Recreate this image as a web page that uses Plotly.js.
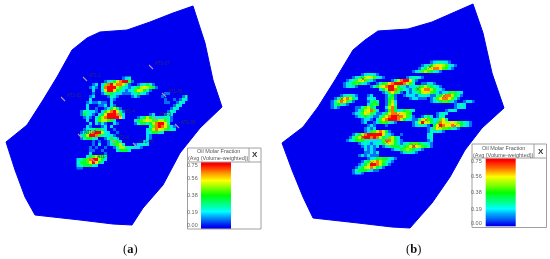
<!DOCTYPE html>
<html><head><meta charset="utf-8">
<script src="https://cdn.plot.ly/plotly-3.0.1.min.js"></script>
<style>html,body{margin:0;padding:0;background:#fff}#c{width:550px;height:259px;filter:blur(0.5px)}</style>
</head><body><div id="c"></div>
<script>
// Field outlines
const outlineAx=[193,205,213,222,200,180,163,143,132,113,80,35,25,15,6,27,43,57,72,87,100,127,150,173];
const outlineAy=[6,43,80,107,128,153,185,208,225,224,220,215,197,170,142,125,100,77,50,38,32,30,22,13];
const outlineBx=[473,483,492,504,482,465,450,432,410,392,358,313,303,292,282,303,318,335,353,365,378,408,432,455];
const outlineBy=[4,33,73,108,128,150,177,203,228,227,223,218,197,170,143,127,107,80,50,40,31,29,22,12];
// Oil molar fraction per 3px cell, one string per row: "startColumn:digits", digit 0 = 0.00 ... 9 = 0.75
const fractionRowsA=[
"15:123",
"9:1234689951",
"5:12 8:25897886310 20:12343 25:1",
"4:121 8:3899965321234676543 26:1",
"5:2 8:26997432123576431",
"5:1 8:1354322111234321 29:11",
"4:12 10:1321 18:121 28:1 35:13",
"4:2 11:21 29:1 32:1 34:132",
"3:121121 9:1 11:2 29:11 33:132",
"3:2 7:112 11:21 32:132",
"3:2 6:1 9:124641 31:132",
"1:133221 8:24689731 30:132",
"1:14321 7:2479998520000000012 29:132",
"2:121 6:2468999972 20:124643222331",
"3:2 6:3566542 19:2456765566531",
"4:2 6:2131 12:21 19:134434689973",
"3:21 8:12 11:2 24:358987421",
"2:1233443 9:2 12:1 23:2468765432",
"1:1346899632 13:1 23:234432",
"1:2469985332 11:21 23:21",
"1:134432 9:13432 23:21",
"5:1 7:1 10:13542 22:22",
"5:1 7:2 10:124563 19:12232",
"4:1 6:1 9:1 12:13663332 20:21",
"4:11 8:1 13:24442",
"4:2 9:1",
"3:2456543",
"0:2345899642",
"0:344579742",
"0:2344432",
"0:11"];
const fractionRowsB=[
"33:1233321",
"30:123467765321",
"29:134678875421",
"27:1235654321",
"10:123321",
"7:12346765321 25:123321",
"5:1235675321 20:136899731",
"4:123454321 15:1345789998653 30:11221",
"4:12321 13:1346789974321 26:22345654321",
"16:2469985432134578864321",
"17:1257531 25:21234676542 36:12345432",
"3:123321 12:12 18:134 21:1 24:122212332 33:11346886431",
"1:13578642 12:232 18:1451 26:122111 33:1357887531",
"0:13687531 12:1343 18:1462 33:123455421 44:1221",
"0:134321 12:2454 18:1573 41:1232",
"0:121 8:1135642 18:2684 41:1232",
"8:12467852 18:1584234532 38:1232",
"7:12357653112468877654 2 35:1232",
"8:1234321 15:1357899887531 30:1342 35:133",
"10:12210 15:2578999864321 28:1367542 35:2573",
"10:12 14:12454321 27:13697642 35:487667654321",
"12:121 18:1 27:123321 34:4798778764321",
"11:1212 32:12576554321",
"11:124568741 32:132321",
"7:13468999997321 23:1 32:23",
"6:135689989864 18:35642 32:23",
"5:123454332 14:222588642 23:1 32:12",
"9:1232123346764212345543321",
"10:121212 17:1234443457876543 33:1",
"11:2121 20:123456543 29:21",
"11:11212 23:123321",
"9:1212111",
"12:1234544321",
"10:134678653210",
"9:12469986431",
"8:1246786431",
"7:134443211",
"7:1221"];
// Colour key
const keyTicks=["0.75","0.56","0.38","0.19","0.00"];
const keyRamp=[0,0.05,0.1,0.15,0.2,0.25,0.3,0.35,0.4,0.45,0.5,0.55,0.6,0.65,0.7,0.75];
const keyTitle=["Oil Molar Fraction","(Avg (Volume-weighted))"];
// Wells
const wellsAx=[151,85,63,164,119,177,155,80,113,135,93];
const wellsAy=[67,79,99,95,115,126,118,136,141,145,160];
const wellNamesA=["AT1-07","AT1-1","AT1-02","AT1-06","AT1-4","AT1-05","AT1-3","AT1-2","AT1-8","AT1-09","AT1-1"];
const wellsBx=[430,363,342,390,418,444,398,426,455,440,363,387,414,372];
const wellsBy=[67,79,99,88,89,96,115,120,126,126,137,142,146,163];

const blue='#0000f0';
const scale=[[0,blue],[0.25,'#00ffff'],[0.5,'#00ff00'],[0.75,'#ffff00'],[1,'#ff0000']];
const inside=(px,py,xs,ys)=>{let c=false;for(let i=0,j=xs.length-1;i<xs.length;j=i++){
  if((ys[i]>py)!==(ys[j]>py)&&px<(xs[j]-xs[i])*(py-ys[i])/(ys[j]-ys[i])+xs[i])c=!c;}return c;};
const toZ=(rows,cols,x0,y0,xs,ys)=>rows.map((r,j)=>{
  const a=new Array(cols).fill(0);
  r.split(' ').filter(Boolean).forEach(seg=>{const [s,d]=seg.split(':');if(d)d.split('').forEach((c,k)=>{if(+s+k<cols)a[+s+k]=(+c)/9*0.75;});});
  return a.map((v,i)=>{const x=x0+3*i,y=y0+3*j;
    return [[-4,-4],[4,-4],[-4,4],[4,4]].every(o=>inside(x+o[0],y+o[1],xs,ys))?v:null;});});
const field=(x,y)=>({type:'scatter',x:x.concat(x[0]),y:y.concat(y[0]),mode:'lines',fill:'toself',
  fillcolor:blue,line:{color:blue,width:1},hoverinfo:'skip',showlegend:false,xaxis:'x',yaxis:'y'});
const map=(rows,cols,x0,y0,xs,ys)=>({type:'heatmap',z:toZ(rows,cols,x0,y0,xs,ys),x0:x0,dx:3,y0:y0,dy:3,zmin:0,zmax:0.75,colorscale:scale,
  showscale:false,zsmooth:false,hoverinfo:'skip',xaxis:'x2',yaxis:'y2'});
const bar=(x0,x1,yTop,yBot)=>{const dy=(yBot-yTop)/keyRamp.length,dx=(x1-x0)/2;return{type:'heatmap',
  z:keyRamp.map(v=>[v,v]),x0:x0+dx/2,dx:dx,y0:yBot-dy/2,dy:-dy,zmin:0,zmax:0.75,colorscale:scale,showscale:false,
  zsmooth:'best',hoverinfo:'skip',xaxis:'x2',yaxis:'y2'};};
const wells=(x,y,sym,size,col,w)=>({type:'scatter',mode:'markers',x:x,y:y,marker:{symbol:sym,size:size,color:col,line:{color:col,width:w}},
  hoverinfo:'skip',showlegend:false,xaxis:'x2',yaxis:'y2'});

const traces=[field(outlineAx,outlineAy),field(outlineBx,outlineBy),
  map(fractionRowsA,37,78,78,outlineAx,outlineAy),map(fractionRowsB,48,332,62,outlineBx,outlineBy),
  bar(201,230.7,162,228.5),bar(485.7,516,158.3,226.5),
  wells(wellsAx,wellsAy,'line-nw',4,'#b795b5',1.1),wells(wellsBx,wellsBy,'x-thin',3.5,'#704848',0.6)];

const ann=[];
const txt=(x,y,t,size,col,anchor,fam)=>ann.push({x:x,y:y,xref:'x',yref:'y',text:t,showarrow:false,xanchor:anchor||'center',yanchor:'middle',
  font:{size:size,color:col,family:fam||'"Liberation Sans",Arial,sans-serif'}});
wellNamesA.forEach((n,i)=>txt(wellsAx[i]+2,wellsAy[i]-4,n,4.5,'#2a2a66','left'));
[[199.5,[165,178,195,211.5,225]],[483.5,[161,175.5,192,209,223]]].forEach(([x,ys])=>keyTicks.forEach((t,i)=>txt(x,ys[i],t,5.5,'#666','right')));
txt(218,151,keyTitle[0],5.5,'#555');txt(218,158,keyTitle[1],5.5,'#555');
txt(503,147.5,keyTitle[0],5.5,'#555');txt(503,154.5,keyTitle[1],5.5,'#555');
txt(255,154.5,'<b>X</b>',8,'#333');txt(540.5,151,'<b>X</b>',8,'#333');
const serif='"Liberation Serif",serif';
txt(130,249,'(<b>a</b>)',12.5,'#111','center',serif);txt(413,249,'(<b>b</b>)',12.5,'#111','center',serif);

const box=(x0,y0,x1,y1)=>({type:'rect',xref:'x',yref:'y',x0,y0,x1,y1,line:{color:'#a0a0a0',width:1}});
const line=(x0,y0,x1,y1)=>({type:'line',xref:'x',yref:'y',x0,y0,x1,y1,line:{color:'#a0a0a0',width:1}});
const shapes=[box(187.5,148,261,229),line(187.5,162,261,162),line(249,148,249,162),
  box(472,144,546.5,227.5),line(472,158,546.5,158),line(534,144,534,158)];
const ax={range:[0,550],visible:false,fixedrange:true},ay={range:[259,0],visible:false,fixedrange:true};
Plotly.newPlot('c',traces,{width:550,height:259,margin:{l:0,r:0,t:0,b:0},paper_bgcolor:'#fff',plot_bgcolor:'#fff',showlegend:false,
  xaxis:ax,yaxis:ay,xaxis2:Object.assign({},ax,{overlaying:'x'}),yaxis2:Object.assign({},ay,{overlaying:'y'}),annotations:ann,shapes:shapes},
  {displayModeBar:false,staticPlot:true});
</script></body></html>
